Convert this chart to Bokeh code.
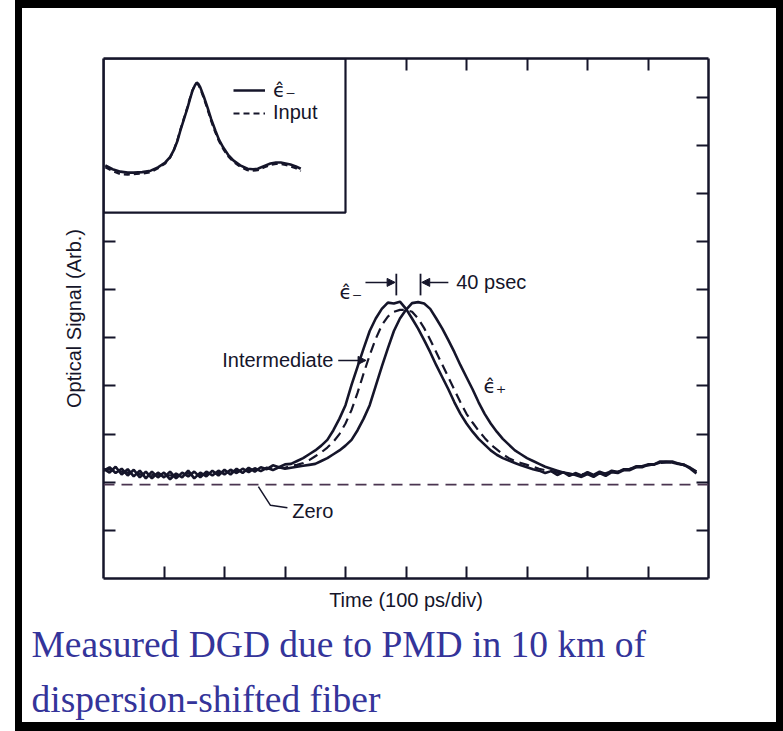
from bokeh.plotting import figure
from bokeh.models import (Range1d, LinearAxis, FixedTicker, Label, Arrow, NormalHead,
                          BoxAnnotation, Legend, LegendItem, Span, Title)
from bokeh.embed import file_html
from bokeh.resources import INLINE

# ---------------- data (divisions) ----------------
time_div = [0.0, 0.1, 0.2, 0.3, 0.4, 0.5, 0.6, 0.7, 0.8, 0.9,
            1.0, 1.1, 1.2, 1.3, 1.4, 1.5, 1.6, 1.7, 1.8, 1.9,
            2.0, 2.1, 2.2, 2.3, 2.4, 2.5, 2.6, 2.7, 2.8, 2.9,
            3.0, 3.1, 3.2, 3.3, 3.4, 3.5, 3.6, 3.7, 3.8, 3.9,
            4.0, 4.1, 4.2, 4.3, 4.4, 4.5, 4.6, 4.7, 4.8, 4.9,
            5.0, 5.1, 5.2, 5.3, 5.4, 5.5, 5.6, 5.7, 5.8, 5.9,
            6.0, 6.1, 6.2, 6.3, 6.4, 6.5, 6.6, 6.7, 6.8, 6.9,
            7.0, 7.1, 7.2, 7.3, 7.4, 7.5, 7.6, 7.7, 7.8, 7.9,
            8.0, 8.1, 8.2, 8.3, 8.4, 8.5, 8.6, 8.7, 8.8, 8.9,
            9.0, 9.1, 9.2, 9.3, 9.4, 9.5, 9.6, 9.7, 9.8]

eps_minus = [2.28, 2.20, 2.32, 2.16, 2.27, 2.12, 2.24, 2.08, 2.22, 2.10,
             2.20, 2.06, 2.18, 2.10, 2.24, 2.08, 2.20, 2.12, 2.24, 2.14,
             2.26, 2.16, 2.28, 2.19, 2.30, 2.22, 2.31, 2.27, 2.35, 2.31,
             2.37, 2.38, 2.44, 2.50, 2.58, 2.66, 2.76, 2.88, 3.08, 3.32,
             3.60, 4.02, 4.40, 4.78, 5.14, 5.40, 5.60, 5.73, 5.71, 5.75,
             5.60, 5.40, 5.19, 4.95, 4.70, 4.43, 4.18, 3.93, 3.66, 3.42,
             3.22, 3.05, 2.90, 2.78, 2.66, 2.57, 2.50, 2.45, 2.40, 2.35,
             2.31, 2.27, 2.24, 2.19, 2.23, 2.15, 2.21, 2.13, 2.19, 2.14,
             2.21, 2.15, 2.22, 2.17, 2.24, 2.21, 2.27, 2.27, 2.33, 2.33,
             2.37, 2.37, 2.41, 2.42, 2.41, 2.38, 2.36, 2.30, 2.22]

eps_plus = [2.24, 2.31, 2.19, 2.28, 2.14, 2.26, 2.10, 2.22, 2.08, 2.20,
            2.10, 2.22, 2.08, 2.20, 2.12, 2.22, 2.10, 2.22, 2.14, 2.24,
            2.16, 2.26, 2.19, 2.28, 2.21, 2.29, 2.23, 2.30, 2.25, 2.31,
            2.28, 2.30, 2.32, 2.34, 2.36, 2.38, 2.44, 2.50, 2.58, 2.66,
            2.76, 2.88, 3.08, 3.32, 3.60, 4.00, 4.40, 4.78, 5.14, 5.40,
            5.58, 5.72, 5.74, 5.71, 5.60, 5.40, 5.19, 4.95, 4.70, 4.43,
            4.18, 3.93, 3.66, 3.42, 3.22, 3.05, 2.90, 2.78, 2.66, 2.58,
            2.50, 2.44, 2.38, 2.32, 2.28, 2.24, 2.20, 2.18, 2.15, 2.11,
            2.17, 2.11, 2.19, 2.13, 2.21, 2.19, 2.25, 2.25, 2.31, 2.31,
            2.36, 2.37, 2.43, 2.43, 2.43, 2.39, 2.36, 2.28, 2.18]

intermediate = [2.26, 2.26, 2.24, 2.22, 2.20, 2.19, 2.17, 2.16, 2.15, 2.16,
                2.15, 2.14, 2.13, 2.15, 2.18, 2.16, 2.15, 2.17, 2.19, 2.19,
                2.21, 2.21, 2.23, 2.23, 2.25, 2.26, 2.27, 2.28, 2.29, 2.30,
                2.30, 2.34, 2.36, 2.40, 2.46, 2.54, 2.62, 2.72, 2.84, 3.00,
                3.22, 3.50, 3.86, 4.26, 4.64, 4.98, 5.26, 5.44, 5.54, 5.58,
                5.58, 5.54, 5.40, 5.20, 4.96, 4.70, 4.44, 4.18, 3.92, 3.66,
                3.42, 3.24, 3.07, 2.92, 2.78, 2.68, 2.58, 2.50, 2.44, 2.40,
                2.36, 2.32, 2.28, 2.25, 2.23, 2.20, 2.18, 2.17, 2.16, 2.16,
                2.17, 2.17, 2.18, 2.19, 2.21, 2.22, 2.25, 2.28, 2.31, 2.33,
                2.35, 2.37, 2.40, 2.41, 2.41, 2.39, 2.35, 2.29, 2.22]

zero_level = 1.95

# inset (own vertical units, 0 = bottom of inset)
inset_time = [0.03, 0.15, 0.28, 0.40, 0.50, 0.64, 0.78, 0.90, 1.02, 1.10,
              1.16, 1.22, 1.27, 1.33, 1.39, 1.43, 1.47, 1.51, 1.54, 1.57,
              1.60, 1.66, 1.72, 1.78, 1.85, 1.91, 1.98, 2.06, 2.15, 2.26,
              2.38, 2.47, 2.55, 2.66, 2.76, 2.85, 2.93, 3.01, 3.09, 3.18, 3.26]
inset_eps = [0.98, 0.90, 0.85, 0.83, 0.83, 0.84, 0.87, 0.94, 1.04, 1.15,
             1.29, 1.48, 1.70, 1.94, 2.18, 2.36, 2.53, 2.64, 2.70, 2.67,
             2.60, 2.40, 2.18, 1.94, 1.70, 1.51, 1.35, 1.20, 1.08, 0.98,
             0.91, 0.90, 0.91, 0.97, 1.02, 1.04, 1.04, 1.02, 1.00, 0.96, 0.91]
inset_input = [0.94, 0.86, 0.80, 0.79, 0.80, 0.81, 0.84, 0.92, 1.02, 1.14,
               1.29, 1.50, 1.72, 1.96, 2.20, 2.38, 2.54, 2.64, 2.68, 2.65,
               2.57, 2.37, 2.14, 1.90, 1.66, 1.48, 1.32, 1.17, 1.05, 0.95,
               0.88, 0.87, 0.88, 0.94, 0.99, 1.01, 1.01, 0.99, 0.96, 0.92, 0.86]

bottom_ticks = [1, 2, 3, 4, 5, 6, 7, 8, 9]
top_ticks = [5, 6, 7, 8, 9]
left_ticks = [1, 2, 3, 4, 5, 6, 7]
right_ticks = [1, 2, 3, 4, 5, 6, 7, 8, 9, 10]

INK = "#15152a"
FONT = "Liberation Sans"
GREEK_FONT = "DejaVu Sans"
CAPTION_COLOR = "#34349a"

p = figure(width=783, height=731, x_range=Range1d(0, 10), y_range=Range1d(0, 10.8),
           output_backend="svg", toolbar_location=None,
           x_axis_location=None, y_axis_location=None,
           min_border_left=103, min_border_right=75, min_border_top=58, min_border_bottom=153)
p.grid.visible = False
p.outline_line_color = None
p.background_fill_color = "white"
p.border_fill_color = None
p.styles = {"background-color": "white",
            "box-shadow": ("inset 15px 0 0 0 white, inset 22px 0 0 0 black, "
                           "inset -7px 0 0 0 black, inset 0 8px 0 0 black, "
                           "inset 0 -9px 0 0 black")}
p.extra_y_ranges = {"inset": Range1d(-7.6, 3.2)}


def make_axis(ticks, label=None, standoff=10):
    ax = LinearAxis(ticker=FixedTicker(ticks=ticks),
                    axis_line_color=INK, axis_line_width=2.5,
                    major_tick_in=12, major_tick_out=0,
                    major_tick_line_color=INK, major_tick_line_width=2,
                    minor_tick_line_color=None,
                    major_label_overrides={t: "" for t in ticks},
                    major_label_standoff=0)
    if label:
        ax.axis_label = label
        ax.axis_label_text_font = FONT
        ax.axis_label_text_font_style = "normal"
        ax.axis_label_text_font_size = "20px"
        ax.axis_label_text_color = INK
        ax.axis_label_standoff = standoff
    return ax


p.add_layout(make_axis(bottom_ticks, "Time (100 ps/div)", 10), "below")
p.add_layout(make_axis(left_ticks, "Optical Signal (Arb.)", 19), "left")
p.add_layout(make_axis(top_ticks), "above")
p.add_layout(make_axis(right_ticks), "right")

# caption under the chart
cap = dict(align="left", offset=-72, text_font="Liberation Serif", text_font_size="37.5px",
           text_font_style="normal", text_color=CAPTION_COLOR)
p.add_layout(Title(text="Measured DGD due to PMD in 10 km of", standoff=16, **cap), "below")
p.add_layout(Title(text="dispersion-shifted fiber", standoff=8, **cap), "below")

# inset box
inset_box = BoxAnnotation(left=0, right=4.0, bottom=7.6, top=10.8, fill_color="white",
                          fill_alpha=1, line_color=INK, line_alpha=1, line_width=2.2,
                          level="underlay")
p.add_layout(inset_box)

# zero line
p.add_layout(Span(location=zero_level, dimension="width", line_color="#4a3550",
                  line_width=1.6, line_dash="11 7"))

# main curves
p.line(time_div, eps_minus, line_color=INK, line_width=2.6)
p.line(time_div, eps_plus, line_color=INK, line_width=2.6)
p.line(time_div, intermediate, line_color=INK, line_width=2.2, line_dash="10 6")

# inset curves
r1 = p.line(inset_time, inset_eps, y_range_name="inset", line_color=INK, line_width=2.6)
r2 = p.line(inset_time, inset_input, y_range_name="inset", line_color=INK, line_width=2.2,
            line_dash="6 4")
leg = dict(border_line_color=None, background_fill_alpha=0, padding=0, margin=0,
           glyph_width=32, glyph_height=20, label_height=20, label_standoff=8, spacing=0,
           label_text_font_size="20px", label_text_color=INK)
p.add_layout(Legend(items=[LegendItem(label="ϵ̂₋", renderers=[r1])], location=(130, 476),
                    label_text_font=GREEK_FONT, **leg), "center")
p.add_layout(Legend(items=[LegendItem(label="Input", renderers=[r2])], location=(130, 454),
                    label_text_font=FONT, **leg), "center")

# annotations
txt = dict(text_font=FONT, text_font_size="20px", text_color=INK)
gtxt = dict(text_font=GREEK_FONT, text_font_size="20px", text_color=INK)
p.add_layout(Label(x=5.83, y=6.15, text="40 psec", text_baseline="middle", **txt))
p.add_layout(Label(x=3.80, y=4.53, text="Intermediate", text_baseline="middle",
                   text_align="right", **txt))
p.add_layout(Label(x=3.12, y=1.41, text="Zero", text_baseline="middle", **txt))
p.add_layout(Label(x=3.90, y=5.96, text="ϵ̂₋", text_baseline="middle", **gtxt))
p.add_layout(Label(x=6.28, y=4.0, text="ϵ̂₊", text_baseline="middle", **gtxt))

head = dict(size=8, fill_color=INK, line_color=INK)
p.add_layout(Arrow(end=NormalHead(**head), x_start=4.33, y_start=6.15, x_end=4.82, y_end=6.15,
                   line_color=INK, line_width=1.5))
p.add_layout(Arrow(end=NormalHead(**head), x_start=5.70, y_start=6.15, x_end=5.26, y_end=6.15,
                   line_color=INK, line_width=1.5))
p.add_layout(Arrow(end=NormalHead(**head), x_start=3.88, y_start=4.53, x_end=4.34, y_end=4.53,
                   line_color=INK, line_width=1.5))
p.segment(x0=[4.84, 5.24], y0=[5.88, 5.88], x1=[4.84, 5.24], y1=[6.33, 6.33],
          line_color=INK, line_width=1.8)
p.line([2.56, 2.76, 3.04], [1.91, 1.52, 1.47], line_color=INK, line_width=1.5)

open("out.html", "w").write(file_html(p, INLINE))
